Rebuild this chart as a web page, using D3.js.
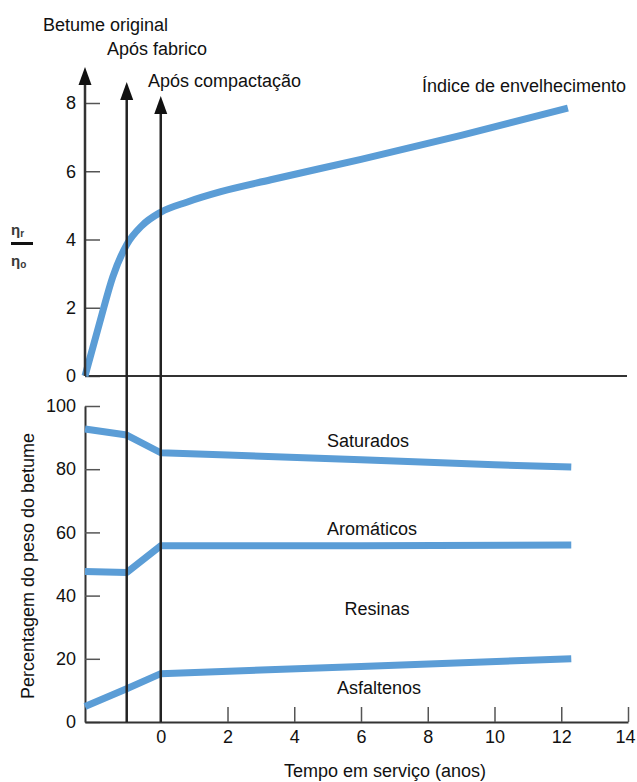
<!DOCTYPE html>
<html>
<head>
<meta charset="utf-8">
<script src="https://cdn.jsdelivr.net/npm/d3@7"></script>
<style>
  body { margin: 0; background: #fff; }
  svg { display: block; font-family: "Liberation Sans", Arial, sans-serif; }
  .tick text { font-size: 18px; fill: #111; }
</style>
</head>
<body>
<script>
// momentos: betume original, após fabrico, após compactação (anos)
const eventos = [-2.27, -1.02, 0];
const eventoLabels = ["Betume original", "Após fabrico", "Após compactação"];

// índice de envelhecimento (eta_r / eta_o)
const tempoIndice = [-2.27, -1.82, -1.44, -1.02, -0.57, 0, 0.8, 1.8, 3.3, 6, 9, 12.2];
const indice = [0, 1.6, 2.9, 3.85, 4.4, 4.8, 5.1, 5.4, 5.75, 6.35, 7.05, 7.85];

// composição do betume (% em peso)
const tempoSat = [-2.27, -1.02, 0, 2, 6, 10, 12.3];
const saturados = [92.7, 90.8, 85.2, 84.5, 83.0, 81.4, 80.7];
const tempoArom = [-2.27, -1.02, 0, 6, 12.3];
const aromaticos = [47.6, 47.3, 55.8, 55.8, 56];
const tempoAsf = [-2.27, -1.02, 0, 6, 12.3];
const asfaltenos = [4.9, 10.5, 15.3, 17.6, 20];

const xTicks = [0, 2, 4, 6, 8, 10, 12, 14];
const topTicks = [0, 2, 4, 6, 8];
const bottomTicks = [0, 20, 40, 60, 80, 100];

const width = 637, height = 782;
const blue = "#5b9dd6";

let svg = d3.select("body").append("svg")
    .attr("width", width)
    .attr("height", height);

let x = d3.scaleLinear().domain([-2.27, 14]).range([85, 628]);
let yTop = d3.scaleLinear().domain([0, 8]).range([376, 103]);
let yBot = d3.scaleLinear().domain([0, 100]).range([722, 406]);

// top panel axis
let axTop = svg.append("g")
    .attr("transform", "translate(" + x(-2.27) + ",0)")
    .call(d3.axisLeft(yTop).tickValues(topTicks).tickSizeInner(-15).tickSizeOuter(0).tickPadding(9));
axTop.select(".domain").remove();
axTop.selectAll(".tick line").attr("stroke", "#555").attr("stroke-width", 1.5);

svg.append("line")
    .attr("x1", x(-2.27)).attr("x2", 627)
    .attr("y1", yTop(0)).attr("y2", yTop(0))
    .attr("stroke", "#333").attr("stroke-width", 2);

// bottom panel axes
let axBot = svg.append("g")
    .attr("transform", "translate(" + x(-2.27) + ",0)")
    .call(d3.axisLeft(yBot).tickValues(bottomTicks).tickSizeInner(-15).tickSizeOuter(0).tickPadding(9));
axBot.select(".domain").attr("stroke", "#333").attr("stroke-width", 2);
axBot.selectAll(".tick line").attr("stroke", "#555").attr("stroke-width", 1.5);

let axX = svg.append("g")
    .attr("transform", "translate(0," + yBot(0) + ")")
    .call(d3.axisBottom(x).tickValues(xTicks).tickSizeInner(-15).tickSizeOuter(0).tickPadding(8));
axX.select(".domain").attr("stroke", "#333").attr("stroke-width", 2);
axX.selectAll(".tick line").attr("stroke", "#555").attr("stroke-width", 1.5);
axX.selectAll(".tick text").filter(d => d === 14).attr("dx", -3);

// curves
let lineTop = d3.line()
    .x(d => x(d[0]))
    .y(d => yTop(d[1]))
    .curve(d3.curveMonotoneX);

svg.append("path")
    .datum(d3.zip(tempoIndice, indice))
    .attr("d", lineTop)
    .attr("fill", "none")
    .attr("stroke", blue)
    .attr("stroke-width", 7)
    .attr("stroke-linecap", "butt");

let lineBot = d3.line()
    .x(d => x(d[0]))
    .y(d => yBot(d[1]))
    .curve(d3.curveLinear);

[[tempoSat, saturados], [tempoArom, aromaticos], [tempoAsf, asfaltenos]].forEach(s => {
    svg.append("path")
        .datum(d3.zip(s[0], s[1]))
        .attr("d", lineBot)
        .attr("fill", "none")
        .attr("stroke", blue)
        .attr("stroke-width", 7)
        .attr("stroke-linejoin", "round");
});

// event lines with arrows
const arrowTips = [67, 82, 96];
eventos.forEach((e, i) => {
    let px = x(e);
    let tip = arrowTips[i];
    svg.append("line")
        .attr("x1", px).attr("x2", px)
        .attr("y1", tip + 10).attr("y2", i === 0 ? yTop(0) : yBot(0))
        .attr("stroke", i === 0 ? "#333" : "#222").attr("stroke-width", 2.5);
    svg.append("path")
        .attr("d", "M" + px + "," + tip + "L" + (px - 6.5) + "," + (tip + 18) + "L" + (px + 6.5) + "," + (tip + 18) + "Z")
        .attr("fill", "#111");
});

// event labels
const labelPos = [[43, 31], [107, 55], [148, 87]];
eventoLabels.forEach((t, i) => {
    svg.append("text")
        .attr("x", labelPos[i][0]).attr("y", labelPos[i][1])
        .attr("font-size", 18).attr("fill", "#111")
        .text(t);
});

svg.append("text")
    .attr("x", 422).attr("y", 92)
    .attr("font-size", 18).attr("fill", "#111")
    .text("Índice de envelhecimento");

// series labels
const seriesLabels = [["Saturados", 368, 447], ["Aromáticos", 372, 535], ["Resinas", 377, 615], ["Asfaltenos", 379, 694]];
seriesLabels.forEach(l => {
    svg.append("text")
        .attr("x", l[1]).attr("y", l[2])
        .attr("text-anchor", "middle")
        .attr("font-size", 18).attr("fill", "#111")
        .text(l[0]);
});

// y label of the top panel: eta_r / eta_o
let eta = svg.append("g").attr("fill", "#3a3a3a").attr("font-weight", "bold");
let t1 = eta.append("text").attr("x", 11).attr("y", 235).attr("font-size", 15);
t1.append("tspan").text("η");
t1.append("tspan").attr("font-size", 10).attr("dy", 2).text("r");
svg.append("rect")
    .attr("x", 11).attr("y", 242).attr("width", 22).attr("height", 3)
    .attr("fill", "#111");
let t2 = eta.append("text").attr("x", 11).attr("y", 266).attr("font-size", 15);
t2.append("tspan").text("η");
t2.append("tspan").attr("font-size", 10).attr("dy", 2).text("o");

// axis titles
svg.append("text")
    .attr("transform", "translate(34,566) rotate(-90)")
    .attr("text-anchor", "middle")
    .attr("font-size", 18).attr("fill", "#111")
    .text("Percentagem do peso do betume");

svg.append("text")
    .attr("x", 385).attr("y", 777)
    .attr("text-anchor", "middle")
    .attr("font-size", 18).attr("fill", "#111")
    .text("Tempo em serviço  (anos)");
</script>
</body>
</html>
